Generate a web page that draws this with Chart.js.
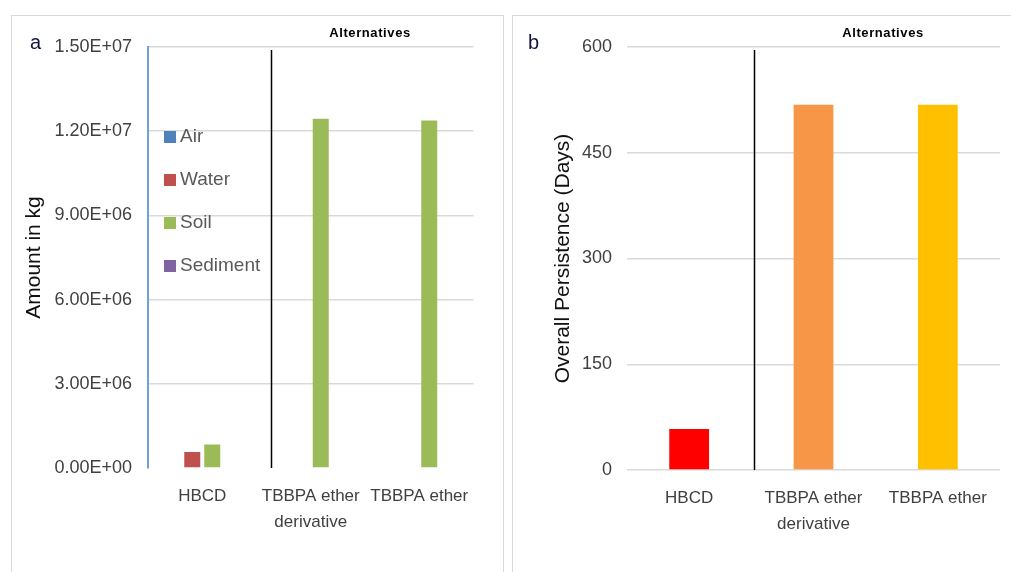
<!DOCTYPE html>
<html><head><meta charset="utf-8">
<script src="https://cdn.jsdelivr.net/npm/chart.js@4"></script>
<style>
body{margin:0;background:#fff;width:1011px;height:572px;overflow:hidden;position:relative;font-family:"Liberation Sans",Arial,sans-serif;}
.frame{position:absolute;border:1px solid #d9d9d9;box-sizing:border-box;}
#fa{left:11px;top:15px;width:493px;height:570px;}
#fb{left:512px;top:15px;width:510px;height:570px;}
canvas{position:absolute;}
#ca{left:12px;top:15px;}
#cb{left:512px;top:15px;}
.lab{position:absolute;font-size:20px;color:#14143c;}
.alt{position:absolute;font-size:13px;letter-spacing:0.6px;font-weight:bold;color:#000;transform:translateX(-50%);}
.leg{position:absolute;left:164px;font-size:19px;color:#595959;height:24px;line-height:24px;}
.leg span{display:inline-block;width:12px;height:12px;margin-right:4px;vertical-align:-1px;}
</style>
</head><body>
<div class="frame" id="fa"></div>
<div class="frame" id="fb"></div>
<canvas id="ca" width="491" height="557" style="width:491px;height:557px"></canvas>
<canvas id="cb" width="499" height="557" style="width:499px;height:557px"></canvas>
<div class="lab" style="left:30px;top:31px;">a</div>
<div class="lab" style="left:528px;top:31px;">b</div>
<div class="alt" style="left:370px;top:25px;">Alternatives</div>
<div class="alt" style="left:883px;top:25px;">Alternatives</div>
<div id="legend"></div>
<script>
// ---- data ----
const categories = ["HBCD", ["TBBPA ether", "derivative"], "TBBPA ether"];
const compartments = ["Air", "Water", "Soil", "Sediment"];
const airKg = [0, 0, 0];
const waterKg = [5.7e5, 0, 0];
const soilKg = [8.4e5, 1.244e7, 1.238e7];
const sedimentKg = [0, 0, 0];
const amountTicks = ["0.00E+00", "3.00E+06", "6.00E+06", "9.00E+06", "1.20E+07", "1.50E+07"];
const persistenceDays = [58, 518, 518];
const persistenceTicks = [0, 150, 300, 450, 600];

const compColors = ["#4F81BD", "#C0504D", "#9BBB59", "#8064A2"];
const barColorsB = ["#FF0000", "#F79646", "#FFC000"];

// legend (HTML)
const legTops = [124, 167, 210, 253];
const legEl = document.getElementById('legend');
compartments.forEach((c, i) => {
  const d = document.createElement('div');
  d.className = 'leg';
  d.style.top = legTops[i] + 'px';
  d.innerHTML = '<span style="background:' + compColors[i] + '"></span>' + c;
  legEl.appendChild(d);
});

const divider = {
  id: 'divider',
  afterDatasetsDraw(chart, args, opts) {
    const x = chart.scales.x.getPixelForValue(opts.at);
    const {top, bottom} = chart.chartArea;
    const ctx = chart.ctx;
    ctx.save();
    ctx.strokeStyle = '#000';
    ctx.lineWidth = 1.5;
    ctx.beginPath();
    ctx.moveTo(Math.round(x) + 0.5, top + 3);
    ctx.lineTo(Math.round(x) + 0.5, bottom);
    ctx.stroke();
    ctx.restore();
  }
};

const FONT = '"Liberation Sans", Arial, sans-serif';
Chart.defaults.font.family = FONT;
Chart.defaults.animation = false;

const seriesA = [airKg, waterKg, soilKg, sedimentKg];
new Chart(document.getElementById('ca'), {
  type: 'bar',
  data: {
    labels: categories,
    datasets: compartments.map((c, i) => ({
      label: c, data: seriesA[i], backgroundColor: compColors[i],
      categoryPercentage: 0.737, barPercentage: 0.8
    }))
  },
  options: {
    responsive: false,
    layout: {padding: {top: 32, right: 29.5, left: 0, bottom: 0}},
    plugins: {legend: {display: false}, tooltip: {enabled: false}, divider: {at: 0.634}},
    scales: {
      x: {
        grid: {display: false, drawTicks: false},
        border: {display: false},
        ticks: {color: '#404040', font: {size: 17, lineHeight: 1.5}, padding: 16, maxRotation: 0, autoSkip: false},
        afterFit: s => { s.height = 104; }
      },
      y: {
        min: 0, max: 1.5e7,
        afterBuildTicks: s => { s.ticks = amountTicks.map(t => ({value: Number(t)})); },
        ticks: {color: '#404040', font: {size: 18}, padding: 16,
          callback: (v, i) => amountTicks[i]},
        grid: {color: ctx => ctx.tick && ctx.tick.value === 0 ? 'rgba(0,0,0,0)' : '#d9d9d9', lineWidth: 1.5, drawTicks: false},
        border: {display: true, color: '#6fa0d8', width: 2},
        title: {display: true, text: 'Amount in kg', color: '#111', font: {size: 21}, padding: {top: 10}},
        afterFit: s => { s.width = 136; }
      }
    }
  },
  plugins: [divider]
});

new Chart(document.getElementById('cb'), {
  type: 'bar',
  data: {
    labels: categories,
    datasets: [{label: 'Overall Persistence', data: persistenceDays, backgroundColor: barColorsB,
      categoryPercentage: 0.8, barPercentage: 0.4}]
  },
  options: {
    responsive: false,
    layout: {padding: {top: 32, right: 11, left: 0, bottom: 0}},
    plugins: {legend: {display: false}, tooltip: {enabled: false}, divider: {at: 0.521}},
    scales: {
      x: {
        grid: {display: false, drawTicks: false},
        border: {display: false},
        ticks: {color: '#404040', font: {size: 17, lineHeight: 1.5}, padding: 16, maxRotation: 0, autoSkip: false},
        afterFit: s => { s.height = 102; }
      },
      y: {
        min: 0, max: 600,
        afterBuildTicks: s => { s.ticks = persistenceTicks.map(v => ({value: v})); },
        ticks: {color: '#404040', font: {size: 18}, padding: 15},
        grid: {color: '#d9d9d9', lineWidth: 1.5, drawTicks: false},
        border: {display: false},
        title: {display: true, text: 'Overall Persistence (Days)', color: '#111', font: {size: 21}, padding: {top: 39}},
        afterFit: s => { s.width = 115; }
      }
    }
  },
  plugins: [divider]
});
</script>
</body></html>
